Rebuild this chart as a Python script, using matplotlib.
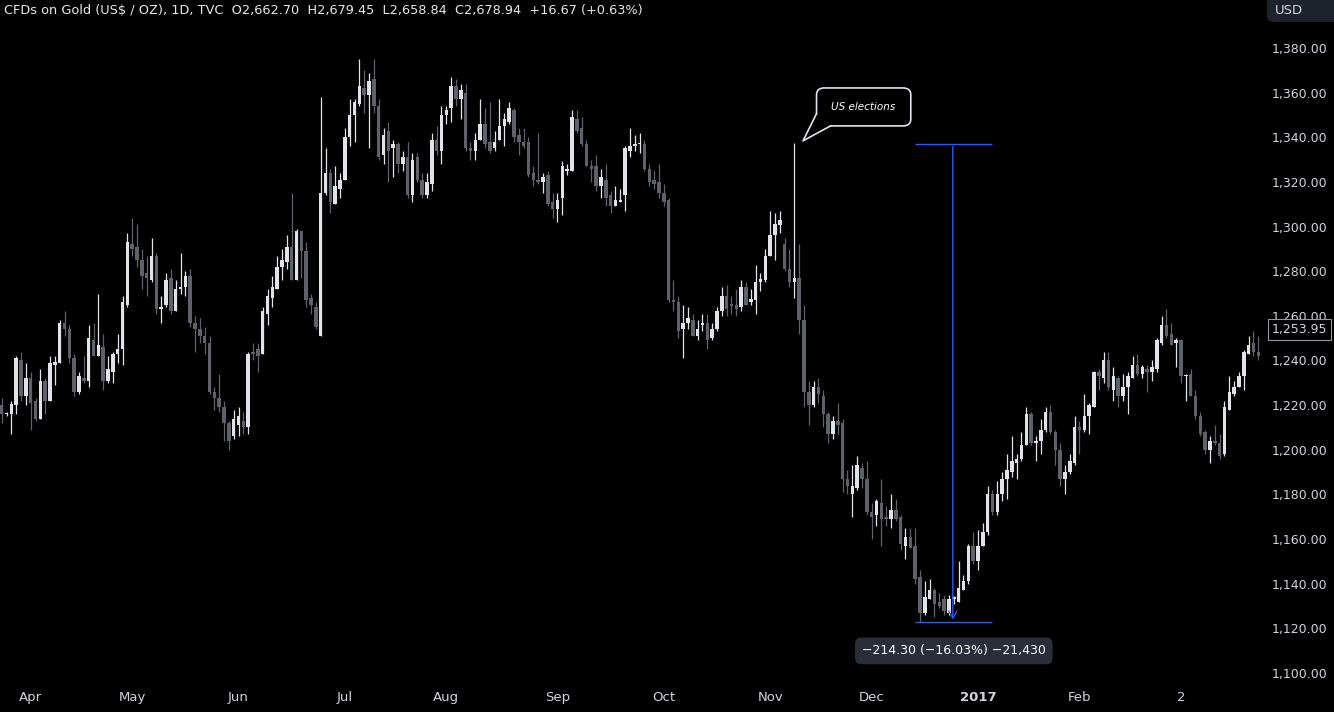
import numpy as np
import matplotlib
matplotlib.use('Agg')
import matplotlib.pyplot as plt
from matplotlib.patches import FancyBboxPatch, Polygon
from matplotlib.transforms import blended_transform_factory

##########################DATA#################################################
# daily candles, gold CFD, end of March 2016 -> March 2017
Open = [1220,1216,1216,1220,1240,1224,1232,1222,1214,1231,1222,1238,1239,1257,1254,1241,1226,1232,1231,1249,
        1242,1246,1231,1235,1243,1245,1265,1292,1291,1285,1279,1276,1287,1263,1265,1277,1262,1272,1273,1278,
        1257,1254,1251,1248,1226,1223,1219,1212,1206,1211,1213,1210,1244,1245,1243,1261,1268,1272,1282,1284,
        1291,1276,1298,1289,1268,1264,1251,1315,1324,1310,1317,1321,1340,1350,1355,1362,1359,1366,1354,1332,
        1343,1335,1337,1328,1331,1314,1331,1321,1314,1319,1339,1334,1350,1353,1363,1357,1360,1335,1334,1339,
        1346,1338,1335,1339,1345,1347,1352,1341,1338,1338,1324,1321,1320,1323,1311,1308,1313,1325,1325,1348,
        1344,1337,1327,1327,1318,1321,1314,1309,1311,1314,1334,1336,1337,1337,1326,1321,1320,1315,1312,1267,
        1266,1254,1257,1258,1251,1256,1257,1250,1254,1262,1269,1265,1265,1264,1273,1266,1267,1275,1276,1287,
        1296,1300.8,1292,1281,1275,1277,1258,1226,1220,1228,1224,1216,1207,1213,1212,1187,1180,1183,1192,1187,
        1172,1171,1176,1170,1169,1173,1170,1157,1161,1157,1143,1127,1133,1137,1132,1133,1127,1133,1132,1137,
        1141,1157,1150,1157,1163,1180,1172,1180,1187,1190,1194,1196,1202,1216,1203,1204,1209,1217,1208,1200,
        1187,1190,1194,1210,1209,1215,1219,1235,1232,1240,1227,1232,1224,1228,1232,1238,1234,1236,1235,1236,
        1248,1256,1252,1248,1249,1233,1234,1224,1215,1208,1200,1204,1203,1198,1218,1225,1228,1233,1243,1248,
        1244]
High = [1223,1217,1222,1242,1244,1239,1235,1223,1236,1232,1242,1242,1258,1262,1256,1243,1235,1242,1256,1257,
        1270,1252,1242,1244,1252,1269,1297,1304,1301,1290,1287,1295,1288,1269,1279,1281,1276,1288,1280,1281,
        1260,1259,1255,1251,1228,1234,1222,1213,1218,1219,1217,1244,1248,1248,1264,1272,1278,1287,1290,1296,
        1315,1299,1298,1293,1270,1266,1358,1335,1326,1327,1324,1344,1357,1357,1375,1370,1369,1375,1357,1344,
        1347,1339,1338,1334,1338,1333,1333,1324,1324,1342,1345,1354,1354,1367,1366,1364,1364,1338,1342,1357,
        1353,1356,1343,1357,1351,1356,1353,1344,1344,1340,1327,1342,1324,1325,1315,1315,1329.5,1328,1352,1352,
        1349,1339,1330,1332,1326,1328,1316,1318,1317,1336,1344,1341,1342,1339,1328,1325,1328,1319,1313,1276,
        1269,1265,1264,1261,1258,1261,1261,1257,1264,1273,1274,1269,1272,1276,1275,1272,1283,1279,1290,1307,
        1306,1307,1295,1290,1337.4,1292,1265,1231,1231,1232,1227,1217,1215,1221,1214,1191,1193,1197,1194,1195,
        1176,1178,1187,1175,1180,1178,1171,1165,1165,1165,1146,1141,1142,1138,1136,1135,1135,1134.5,1150,1144,
        1158,1163,1164,1167,1184,1182,1186,1190,1198,1206,1198,1208,1219,1217,1206,1214,1219,1220,1209,1203,
        1193,1198,1215,1213,1225,1221,1235.5,1236,1244,1244,1237,1233,1234,1235,1242,1243,1238,1238,1240,1250,
        1260,1263,1257,1250,1249,1234,1236,1227,1217,1209,1206,1211,1207,1222,1233,1231,1235,1244.5,1251,1253,
        1251]
Low = [1212,1215,1207,1216,1222,1220,1209,1213,1214,1216,1222,1229,1239,1251,1239,1224,1225,1230,1228,1242,
       1242,1227,1230,1230,1239,1238,1264,1287,1282,1272,1269,1275,1261,1257,1264,1261,1262,1270,1269,1255,
       1244,1248,1243,1225,1218,1217,1204,1200,1205,1206,1207,1207,1240,1235,1243,1256,1264,1272,1276,1281,
       1276,1276,1277,1264,1261,1254,1251,1314,1306,1310,1313,1321,1336,1338,1354,1351,1335,1351,1330,1328,
       1320,1322,1324,1325,1313,1311,1320,1313,1313,1316,1332,1328,1346,1347,1354,1348,1334,1330,1330,1339,
       1335,1333,1334,1339,1336,1346,1338,1332,1335,1322,1318,1319,1315,1309,1304,1302,1305,1323,1325,1342,
       1336,1327,1320,1316,1313,1309,1306,1309,1311,1307,1331,1334,1333,1325,1318,1317,1313,1309,1266,1262,
       1250,1241,1254,1251,1249,1253,1245,1249,1253,1260,1260,1261,1260,1262,1265,1265,1261,1271,1275,1287,
       1285,1297,1280,1273,1268,1252,1219,1211,1219,1221,1210,1203,1205,1207,1181,1180,1170,1182,1183,1171,
       1160,1166,1157,1166,1165,1168,1155,1151,1156,1140,1123,1126,1133,1125,1129,1126,1126,1131,1132,1137,
       1140,1149,1146,1157,1162,1171,1171,1177,1178,1188,1187,1195,1202,1202,1195,1198,1208,1207,1193,1184,
       1180,1189,1193,1198,1208,1207,1219,1227,1230,1227,1222,1219,1222,1216,1232,1233,1232,1226,1231,1235,
       1247,1250,1247,1237,1230,1222,1224,1214,1206,1198,1194,1202,1196,1197,1218,1224,1228,1227,1243,1242,
       1240]
Close = [1216,1216,1220.5,1241,1224,1232,1221,1214,1231,1222,1239,1239.5,1257,1254,1241,1226,1233,1231,1250,1242,
         1247,1231,1236,1243,1245,1266,1293,1290,1285,1278,1277,1287,1263,1264,1276,1262,1272,1273,1278,1257,
         1254,1251,1248,1226,1223,1219,1212,1204,1214,1215,1210,1243,1243,1242,1262,1269,1273,1282,1285,1291,
         1276,1298,1289,1267,1265,1255,1315,1324,1311,1318,1321,1340,1350,1356,1363,1359,1365,1354,1331,1341,
         1334,1337,1328,1331,1314,1330,1321,1314,1320,1339,1334,1350,1352,1363,1357,1361,1335,1334,1339,1346,
         1337,1334,1338,1345,1348,1353,1340,1338,1336,1323,1321,1320,1322,1310,1308,1312,1327,1326,1349,1343,
         1337,1327,1326,1318,1322,1313,1309,1312,1312,1335,1336,1337,1337.5,1326,1320,1319,1315,1311,1267,1266,
         1253,1257,1259,1251,1254,1257,1249,1254,1262,1269,1263,1264.5,1263,1273,1265,1267.5,1275,1276.5,1287,1296,
         1301,1303,1281,1275,1277,1258,1226,1220,1228,1225,1216,1207,1213,1211,1187,1184,1184,1193,1187,1172,
         1170,1177,1169,1169,1173,1169,1158,1161,1156,1142,1127,1134,1137,1131,1130,1128,1133,1134,1138,1141,
         1157,1150,1157,1163,1180,1172,1180,1187,1191,1195,1196,1202,1216,1203,1204,1209,1217,1208,1200,1187,
         1190,1195,1210,1209,1215,1220,1235,1233,1240,1228,1233,1224,1228,1233,1238,1234,1237,1235,1237,1249,
         1256,1251,1247,1249,1233,1233.5,1224,1215,1207,1200,1204,1203,1197,1219,1226,1228,1233,1244,1247,1244,
         1242]

month_pos = [6, 27, 49, 71, 92, 115, 137, 159, 180, 202, 223, 244]
month_lbl = ['Apr', 'May', 'Jun', 'Jul', 'Aug', 'Sep', 'Oct', 'Nov', 'Dec', '2017', 'Feb', '2']
price_ticks = list(range(1100, 1381, 20))
last_price = 1253.95
election_idx = 164
measure_hi = 1337.10
measure_lo = 1122.80
measure_x = [189.0, 196.8, 204.9]
##########################DATA#################################################

UP = '#e2e3e8'
DOWN = '#5e6169'
TXT = '#d1d4dc'
BLUE = '#2f5bea'

o = np.array(Open, dtype=float)
h = np.array(High, dtype=float)
l = np.array(Low, dtype=float)
c = np.array(Close, dtype=float)
x = np.arange(len(o))
col = np.where(c >= o, UP, DOWN)

fig = plt.figure(figsize=(13.34, 7.12), dpi=100, facecolor='black')
ax = fig.add_axes([0, 30/712, 1262/1334, 682/712], facecolor='black')

# candles
ax.vlines(x, l, h, colors=col, linewidth=0.9, zorder=2)
body = np.maximum(np.abs(c - o), 0.6)
ax.bar(x, body, bottom=np.minimum(o, c), width=0.72, color=col, linewidth=0, zorder=3)

ax.set_xlim(-0.35, 260.77)
ax.set_ylim(1095.97, 1401.5)
for s in ax.spines.values():
    s.set_visible(False)

ax.yaxis.tick_right()
ax.set_yticks(price_ticks)
ax.set_yticklabels(['{:,.2f}'.format(p) for p in price_ticks])
ax.tick_params(axis='y', length=0, pad=7, labelcolor=TXT, labelsize=9)
ax.set_xticks(month_pos)
ax.set_xticklabels(month_lbl)
ax.tick_params(axis='x', length=0, pad=6.5, labelcolor=TXT, labelsize=9.5)
for t in ax.get_xticklabels():
    if t.get_text() == '2017':
        t.set_fontweight('bold')

# last price box on the scale
tr = blended_transform_factory(ax.transAxes, ax.transData)
ax.text(1.0075, last_price, '{:,.2f}'.format(last_price), transform=tr, ha='left', va='center',
        color=TXT, fontsize=9, clip_on=False, zorder=10,
        bbox=dict(boxstyle='square,pad=0.3', facecolor='black', edgecolor='#9598a1', linewidth=0.8))

# USD box
fig.patches.append(FancyBboxPatch((1267/1334, 690/712), 80/1334, 30/712, boxstyle='round,pad=0,rounding_size=0.006',
                                  transform=fig.transFigure, facecolor='#1e222d', edgecolor='none'))
fig.text(1289/1334, 701/712, 'USD', color=TXT, fontsize=9.5, ha='center', va='center')

# header
fig.text(4/1334, 701/712, 'CFDs on Gold (US$ / OZ), 1D, TVC  O2,662.70  H2,679.45  L2,658.84  C2,678.94  +16.67 (+0.63%)',
         color='#e8e8e8', fontsize=9.3, ha='left', va='center')

# US elections callout
ex = election_idx
box = FancyBboxPatch((ex + 4.6, 1345.1), 19.5, 17.0, boxstyle='round,pad=0,rounding_size=1.6',
                     mutation_aspect=1.9, facecolor='black', edgecolor='#e0e3eb', linewidth=1.2, zorder=6)
ax.add_patch(box)
tail = [(ex + 4.6, 1350.6), (ex + 1.8, 1338.4), (ex + 7.5, 1345.1)]
ax.add_patch(Polygon(tail, closed=True, facecolor='black', edgecolor='none', zorder=7))
ax.plot([p[0] for p in tail], [p[1] for p in tail], color='#e0e3eb', linewidth=1.2, zorder=8)
ax.text(ex + 14.3, 1353.6, 'US elections', color='white', fontsize=7.5, style='italic',
        ha='center', va='center', zorder=9)

# measure tool
ax.hlines([measure_hi, measure_lo], measure_x[0], measure_x[2], colors=BLUE, linewidth=1.0, zorder=5)
ax.annotate('', xy=(measure_x[1], measure_lo), xytext=(measure_x[1], measure_hi),
            arrowprops=dict(arrowstyle='->,head_length=0.5,head_width=0.3', color=BLUE, lw=1.0), zorder=5)
diff = measure_lo - measure_hi
pct = diff / measure_hi * 100
lbl = '{:.2f} ({:.2f}%) {:,.0f}'.format(diff, pct, diff * 100).replace('-', '\u2212')
ax.text(measure_x[1] + 0.2, 1109.9, lbl, color='white', fontsize=9, ha='center', va='center', zorder=9,
        bbox=dict(boxstyle='round,pad=0.55,rounding_size=0.5', facecolor='#2a2e39', edgecolor='none'))

fig.savefig('out.png', dpi=100, facecolor='black')
